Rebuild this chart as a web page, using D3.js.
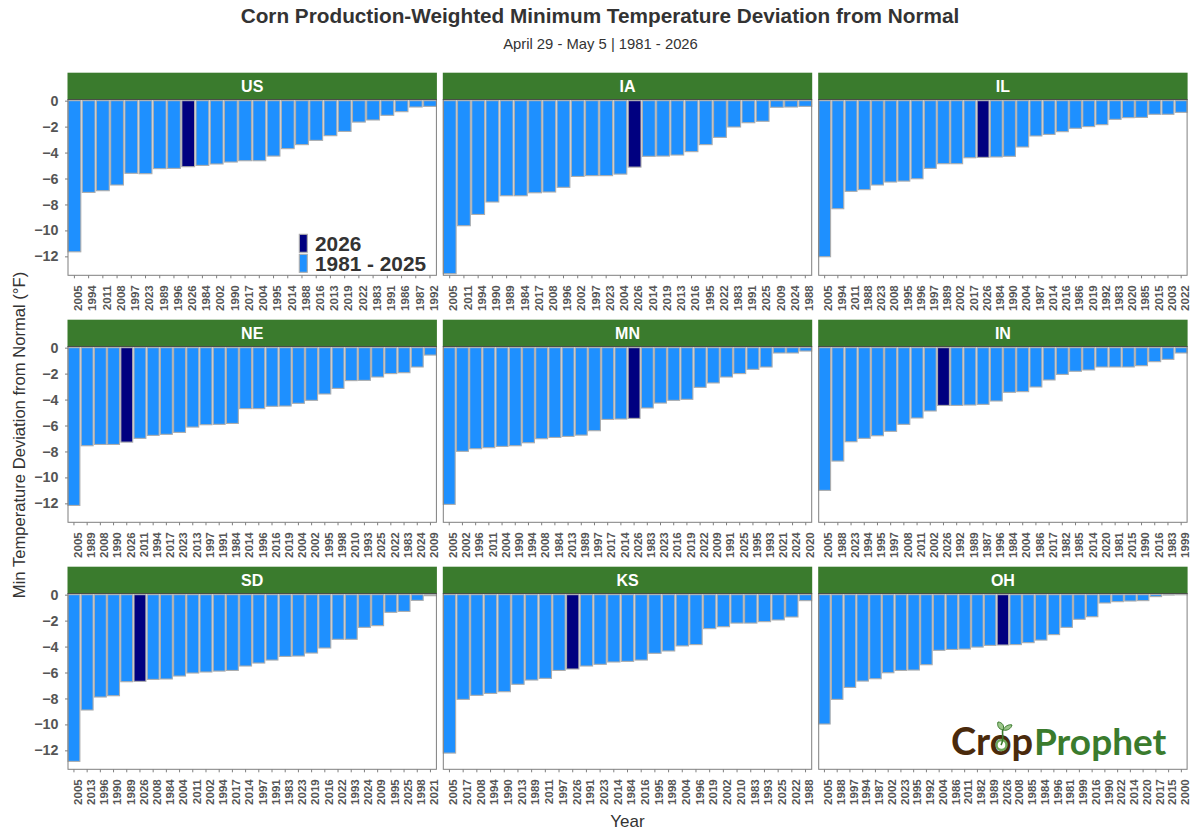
<!DOCTYPE html>
<html>
<head>
<meta charset="utf-8">
<title>Corn Production-Weighted Minimum Temperature Deviation from Normal</title>
<script src="https://cdn.jsdelivr.net/npm/d3@7"></script>
<style>
  body { margin: 0; background: #fff; }
  svg { display: block; font-family: "Liberation Sans", Arial, sans-serif; }
</style>
</head>
<body>
<div id="chart"></div>
<script>
// ========== Data ==========
const usYears = [2005,1994,2011,2008,1997,2023,1989,1996,2026,1984,2002,1990,2017,2004,1995,2014,1988,2016,2013,2019,2022,1983,1991,1986,1987,1992];
const usValues = [-11.65,-7.07,-6.94,-6.5,-5.6,-5.63,-5.24,-5.22,-5.09,-4.99,-4.88,-4.73,-4.63,-4.63,-4.27,-3.7,-3.39,-3.06,-2.7,-2.37,-1.65,-1.49,-1.13,-0.85,-0.49,-0.44];

const iaYears = [2005,2011,1994,1990,1989,1984,2017,2008,1996,2002,1997,2023,2004,2026,2014,2019,2013,2016,1995,2022,1983,1991,2025,2009,2024,1988];
const iaValues = [-13.34,-9.64,-8.77,-7.81,-7.33,-7.33,-7.1,-7.04,-6.68,-5.84,-5.78,-5.78,-5.66,-5.12,-4.29,-4.27,-4.19,-3.93,-3.39,-2.83,-2.03,-1.7,-1.59,-0.51,-0.49,-0.44];

const ilYears = [2005,1994,2011,1988,2023,2008,1995,1996,1997,1989,2002,2017,2026,1984,1990,2004,1987,2014,2016,1986,2019,1992,1983,2020,1985,2015,2003,2022];
const ilValues = [-12.03,-8.33,-6.99,-6.86,-6.5,-6.27,-6.2,-6.02,-5.22,-4.86,-4.86,-4.4,-4.37,-4.34,-4.29,-3.57,-2.72,-2.6,-2.39,-2.13,-2.0,-1.85,-1.44,-1.31,-1.29,-1.05,-1.05,-0.9];

const neYears = [2005,1989,2008,1990,2026,2011,1994,2017,2023,2013,1997,1991,1984,2014,1996,2016,2019,2004,2002,1995,1998,2010,1993,2025,2022,1983,2024,2009];
const neValues = [-12.16,-7.56,-7.46,-7.46,-7.28,-6.99,-6.76,-6.68,-6.53,-6.12,-5.94,-5.91,-5.84,-4.7,-4.7,-4.52,-4.5,-4.29,-4.06,-3.57,-3.14,-2.54,-2.52,-2.26,-2.0,-1.93,-1.49,-0.57];

const mnYears = [2005,2002,1996,2011,2004,1990,1994,2008,1984,2013,1989,1997,2017,2014,2026,1983,2023,2016,2019,2022,2009,1991,2025,1995,1993,2021,2024,2020];
const mnValues = [-12.08,-7.99,-7.79,-7.71,-7.61,-7.56,-7.33,-7.02,-6.92,-6.84,-6.74,-6.4,-5.53,-5.5,-5.45,-4.65,-4.27,-4.06,-3.98,-3.06,-2.72,-2.26,-2.0,-1.67,-1.49,-0.41,-0.41,-0.26];

const inYears = [2005,1988,2023,1994,1995,1997,2008,2011,2002,2026,1992,1989,1987,1996,1984,2004,1986,2017,1982,1985,2014,2020,1981,2015,1990,2016,1983,1999];
const inValues = [-11.0,-8.74,-7.25,-6.99,-6.79,-6.45,-5.91,-5.42,-4.88,-4.45,-4.45,-4.42,-4.37,-4.11,-3.44,-3.39,-3.03,-2.49,-2.06,-1.82,-1.72,-1.49,-1.49,-1.49,-1.39,-1.08,-0.9,-0.41];

const sdYears = [2005,2013,1996,1990,1989,2026,2008,1984,2004,2011,2002,1994,2017,2014,1997,1991,1983,2023,2019,2016,2022,1993,2024,2009,1995,2025,1998,2021];
const sdValues = [-12.85,-8.89,-7.89,-7.79,-6.71,-6.68,-6.53,-6.5,-6.27,-6.04,-5.96,-5.89,-5.84,-5.5,-5.27,-5.04,-4.76,-4.73,-4.5,-4.11,-3.44,-3.44,-2.52,-2.39,-1.36,-1.29,-0.44,-0.08];

const ksYears = [2005,2017,2008,1994,1990,2013,1989,2011,1997,2026,1991,2023,2014,1984,2016,1995,1998,2004,1996,2019,2002,2010,1983,1993,2025,2022,1988];
const ksValues = [-12.21,-8.07,-7.76,-7.61,-7.48,-6.91,-6.58,-6.45,-5.84,-5.73,-5.5,-5.37,-5.19,-5.14,-5.04,-4.52,-4.34,-3.95,-3.85,-2.62,-2.47,-2.19,-2.19,-2.08,-1.95,-1.72,-0.46];

const ohYears = [2005,1988,1997,1994,1987,2002,2023,1995,1992,2004,1986,2011,1982,1989,2026,2008,1985,1984,1996,1981,1999,2016,1990,2022,2014,2020,2017,2015,2000];
const ohValues = [-9.97,-8.07,-7.15,-6.66,-6.48,-6.02,-5.84,-5.81,-5.4,-4.29,-4.22,-4.19,-4.04,-3.91,-3.88,-3.85,-3.7,-3.5,-3.08,-2.52,-1.9,-1.7,-0.64,-0.54,-0.49,-0.46,-0.15,-0.03,-0.01];

const panelNames = ["US","IA","IL","NE","MN","IN","SD","KS","OH"];
const panelYears = [usYears,iaYears,ilYears,neYears,mnYears,inYears,sdYears,ksYears,ohYears];
const panelValues = [usValues,iaValues,ilValues,neValues,mnValues,inValues,sdValues,ksValues,ohValues];
const yTicks = [0,-2,-4,-6,-8,-10,-12];
const currentYear = 2026;
const legendLabels = ["2026","1981 - 2025"];

// ========== Layout ==========
const width = 1200;
const height = 840;
const colLefts = [68, 443.3, 818.7];
const rowTops = [99.5, 346.5, 593.5];
const panelW = 368.4;
const panelH = 175.8;
const stripH = 26.8;

const BLUE = "#1E90FF";
const NAVY = "#000080";
const GREEN = "#3A7B2D";
const TICK_TEXT = "#555";
const BAR_EDGE = "#ADADAD";

const svg = d3.select("#chart").append("svg").attr("width", width).attr("height", height);

// ========== Titles ==========
svg.append("text")
  .attr("x", 600).attr("y", 23)
  .attr("text-anchor", "middle")
  .attr("font-size", 20.75).attr("font-weight", "bold").attr("fill", "#333")
  .text("Corn Production-Weighted Minimum Temperature Deviation from Normal");

svg.append("text")
  .attr("x", 600.5).attr("y", 49)
  .attr("text-anchor", "middle")
  .attr("font-size", 14.8).attr("fill", "#333")
  .text("April 29 - May 5 | 1981 - 2026");

svg.append("text")
  .attr("transform", "translate(25,435) rotate(-90)")
  .attr("text-anchor", "middle")
  .attr("font-size", 16.6).attr("fill", "#333")
  .text("Min Temperature Deviation from Normal (°F)");

svg.append("text")
  .attr("x", 627.5).attr("y", 827)
  .attr("text-anchor", "middle")
  .attr("font-size", 17).attr("fill", "#333")
  .text("Year");

// ========== Panels ==========
panelNames.forEach((name, i) => {
  const col = i % 3;
  const row = Math.floor(i / 3);
  const left = colLefts[col];
  const top = rowTops[row];
  const rows = panelYears[i].map((year, k) => ({ year, value: panelValues[i][k] }));

  const x = d3.scaleBand()
    .domain(panelYears[i])
    .range([left, left + panelW])
    .paddingInner(0.1)
    .paddingOuter(0);

  const y = d3.scaleLinear()
    .domain([0.09, -13.46])
    .range([top, top + panelH]);

  // Bars
  svg.append("g")
    .selectAll("rect")
    .data(rows)
    .join("rect")
    .attr("x", (d) => x(d.year))
    .attr("y", y(0))
    .attr("width", x.bandwidth())
    .attr("height", (d) => y(d.value) - y(0))
    .attr("fill", (d) => (d.year === currentYear ? NAVY : BLUE))
    .attr("stroke", BAR_EDGE)
    .attr("stroke-width", 1.1);

  // Panel border
  svg.append("rect")
    .attr("x", left).attr("y", top)
    .attr("width", panelW).attr("height", panelH)
    .attr("fill", "none")
    .attr("stroke", "#7F7F7F")
    .attr("stroke-width", 1);

  // Strip
  svg.append("rect")
    .attr("x", left - 0.5).attr("y", top - stripH)
    .attr("width", panelW + 1).attr("height", stripH)
    .attr("fill", GREEN);

  svg.append("line")
    .attr("x1", left - 0.5).attr("x2", left + panelW + 0.5)
    .attr("y1", top).attr("y2", top)
    .attr("stroke", "#444")
    .attr("stroke-width", 0.8);

  svg.append("text")
    .attr("x", left + panelW / 2).attr("y", top - stripH / 2 + 5.7)
    .attr("text-anchor", "middle")
    .attr("font-size", 16).attr("font-weight", "bold").attr("fill", "#fff")
    .text(name);

  // X axis
  const xAxis = svg.append("g")
    .attr("transform", `translate(0,${top + panelH})`)
    .call(d3.axisBottom(x).tickSize(3).tickPadding(0));
  xAxis.select(".domain").remove();
  xAxis.selectAll("line").attr("stroke", "#7F7F7F");
  xAxis.selectAll("text")
    .attr("transform", "translate(-0.5,10) rotate(-90)")
    .attr("x", 0).attr("y", 0).attr("dy", "0.72em")
    .attr("text-anchor", "end")
    .attr("font-size", 11.5).attr("font-weight", "bold").attr("font-family", "Liberation Sans")
    .attr("fill", TICK_TEXT);

  // Y axis, first column only
  if (col === 0) {
    const yAxis = svg.append("g")
      .attr("transform", `translate(${left},0)`)
      .call(d3.axisLeft(y).tickValues(yTicks).tickSize(3).tickPadding(6.5).tickFormat(d3.format("d")));
    yAxis.select(".domain").remove();
    yAxis.selectAll("line").attr("stroke", "#7F7F7F");
    yAxis.selectAll("text")
      .attr("font-size", 14.3).attr("font-weight", "bold").attr("font-family", "Liberation Sans")
      .attr("fill", TICK_TEXT);
  }
});

// ========== Legend (inside US panel) ==========
const legend = svg.append("g");
legendLabels.forEach((label, i) => {
  legend.append("rect")
    .attr("x", 299.3).attr("y", 234.3 + i * 20)
    .attr("width", 8).attr("height", 18)
    .attr("fill", i === 0 ? NAVY : BLUE)
    .attr("stroke", BAR_EDGE).attr("stroke-width", 1.1);
  legend.append("text")
    .attr("x", 315).attr("y", 250.8 + i * 20)
    .attr("font-size", 20.8).attr("font-weight", "bold").attr("fill", "#333")
    .text(label);
});

// ========== Logo ==========
const LOGO_BROWN = "#4A2A0C";
const logo = svg.append("g").attr("font-family", "Lato");
logo.append("text")
  .attr("x", 951).attr("y", 755)
  .attr("font-size", 38).attr("font-weight", 700).attr("fill", LOGO_BROWN)
  .text("Crop");
logo.append("text")
  .attr("x", 1034).attr("y", 755)
  .attr("font-size", 37).attr("font-weight", 700).attr("fill", GREEN)
  .text("Prophet");
// sprout growing out of the "o"
logo.append("circle")
  .attr("cx", 1001.5).attr("cy", 745).attr("r", 5)
  .attr("fill", "#fff").attr("stroke", "#6FA85A").attr("stroke-width", 2.4);
logo.append("path")
  .attr("d", "M1001 745 C1005 738 1001 733 1003 729")
  .attr("fill", "none").attr("stroke", GREEN).attr("stroke-width", 1.6);
logo.append("path")
  .attr("d", "M1003 730 C998 729 997 725 998 722 C1002 722 1005 726 1003 730 Z")
  .attr("fill", "#9CC68A").attr("stroke", GREEN).attr("stroke-width", 1);
logo.append("path")
  .attr("d", "M1003 730 C1005 726 1009 724 1012 725 C1011 729 1007 731 1003 730 Z")
  .attr("fill", "#9CC68A").attr("stroke", GREEN).attr("stroke-width", 1);
</script>
</body>
</html>
